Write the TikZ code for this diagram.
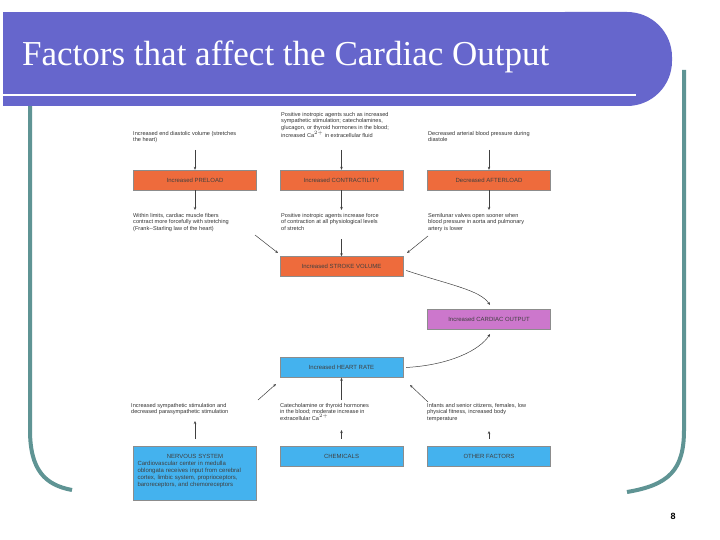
\documentclass[tikz,border=0pt]{standalone}
\usepackage{fontspec}
\setmainfont{Liberation Serif}
\newfontfamily\dsans{Liberation Sans}
\usetikzlibrary{arrows.meta}
\definecolor{banner}{HTML}{6666CC}
\definecolor{frame}{HTML}{5F9494}
\definecolor{ora}{HTML}{EE6B3C}
\definecolor{pur}{HTML}{CC77CC}
\definecolor{blu}{HTML}{44B2EE}
\tikzset{
 bx/.style={draw=black!45, line width=0.4pt, minimum width=123pt, minimum height=20pt, inner sep=1pt, font=\dsans\fontsize{6}{7}\selectfont, text=black!75},
 ob/.style={bx, fill=ora},
 pb/.style={bx, fill=pur},
 bb/.style={bx, fill=blu},
 tx/.style={anchor=north west, align=left, inner sep=0pt, font=\dsans\fontsize{5.6}{6.6}\selectfont, text=black!80},
 ar/.style={-{Stealth[length=3pt,width=2.5pt]}, line width=0.5pt, black!75},
}
\begin{document}
\begin{tikzpicture}[x=1pt,y=-1pt]
\useasboundingbox (0,0) rectangle (720,540);
\fill[white] (0,0) rectangle (720,540);
% frame
\draw[frame, line width=4pt] (30,100) -- (30,430) .. controls (30,470) and (45,485) .. (72,490);
\draw[frame, line width=4pt] (684,70) -- (684,430) .. controls (684,470) and (669,485) .. (627,492);
% banner
\fill[banner] (3,12) rectangle (600,106);
\fill[banner, rounded corners=45pt] (520,12) rectangle (672,106);
\draw[white, line width=1.5pt] (0,95) -- (636,95);
\node[anchor=west, text=white, font=\fontsize{35}{40}\selectfont, inner sep=0pt] (title) at (22,57) {Factors that affect the Cardiac Output};
% boxes
\node[ob] (pre) at (195,180) {Increased PRELOAD};
\node[ob] (con) at (341.5,180) {Increased CONTRACTILITY};
\node[ob] (aft) at (489,180) {Decreased AFTERLOAD};
\node[ob] (sv) at (341.5,266.5) {Increased STROKE VOLUME};
\node[pb] (co) at (489,319.5) {Increased CARDIAC OUTPUT};
\node[bb] (hr) at (341.5,367.5) {Increased HEART RATE};
\node[bb, minimum height=54pt, anchor=north, align=left, text width=115pt] (ns) at (195,446) {\centering NERVOUS SYSTEM\par\raggedright Cardiovascular center in medulla oblongata receives input from cerebral cortex, limbic system, proprioceptors, baroreceptors, and chemoreceptors\par\vspace{4pt}};
\node[bb] (ch) at (341.5,456) {CHEMICALS};
\node[bb] (of) at (489,456) {OTHER FACTORS};
% texts
\node[tx] (t1) at (133,131) {Increased end diastolic volume (stretches\\the heart)};
\node[tx] (t2) at (281,112) {Positive inotropic agents such as increased\\sympathetic stimulation; catecholamines,\\glucagon, or thyroid hormones in the blood;\\increased Ca$^{2+}$ in extracellular fluid};
\node[tx] (t3) at (428,131) {Decreased arterial blood pressure during\\diastole};
\node[tx] (t4) at (133,213) {Within limits, cardiac muscle fibers\\contract more forcefully with stretching\\(Frank--Starling law of the heart)};
\node[tx] (t5) at (281,213) {Positive inotropic agents increase force\\of contraction at all physiological levels\\of stretch};
\node[tx] (t6) at (428,213) {Semilunar valves open sooner when\\blood pressure in aorta and pulmonary\\artery is lower};
\node[tx] (t7) at (131,403) {Increased sympathetic stimulation and\\decreased parasympathetic stimulation};
\node[tx] (t8) at (280,403) {Catecholamine or thyroid hormones\\in the blood; moderate increase in\\extracellular Ca$^{2+}$};
\node[tx] (t9) at (427,403) {Infants and senior citizens, females, low\\physical fitness, increased body\\temperature};
% arrows
\draw[ar] (195,150) -- (pre.north);
\draw[ar] (341.5,150) -- (con.north);
\draw[ar] (489,150) -- (aft.north);
\draw[ar] (pre.south) -- (195,210);
\draw[ar] (con.south) -- (341.5,210);
\draw[ar] (aft.south) -- (489,210);
\draw[ar] (341.5,239) -- (sv.north);
\coordinate (a1) at (255,235); \coordinate (a2) at (428,236);
\draw[ar] (a1) -- (278,253);
\draw[ar] (a2) -- (407,253);
\draw[ar] (sv.east) ++(3,4) .. controls (450,285) and (480,290) .. (490,305);
\draw[ar] (hr.east) ++(3,0) .. controls (450,365) and (480,350) .. (490,334);
\draw[ar] (ns.north) ++(0,-7) -- (195,421);
\draw[ar] (ch.north) ++(0,-7) -- (341.5,430);
\draw[ar] (of.north) ++(0,-7) -- (489,431);
\draw[ar] (341.5,400) -- (hr.south);
\draw[ar] (258,400) -- (276,384);
\draw[ar] (428,402) -- (410,385);
\node[font=\dsans\bfseries\fontsize{9}{10}\selectfont] (pg) at (673,516) {8};
\end{tikzpicture}
\end{document}
